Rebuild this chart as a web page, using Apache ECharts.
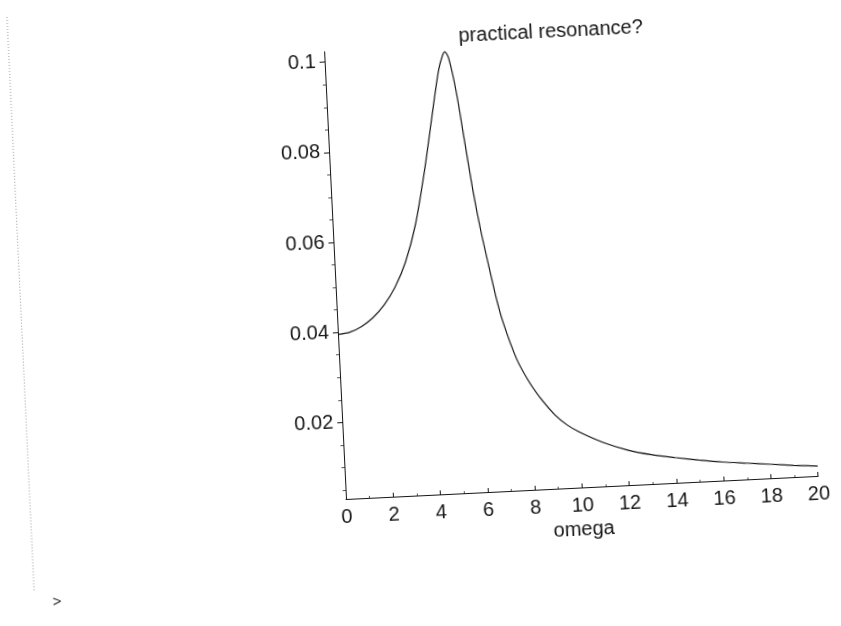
<!DOCTYPE html>
<html><head><meta charset="utf-8">
<script src="https://cdn.jsdelivr.net/npm/echarts@6/dist/echarts.min.js"></script>
<style>
html,body{margin:0;padding:0;background:#fff;overflow:hidden;width:841px;height:626px}
#c{position:absolute;left:0;top:0;width:841px;height:626px;transform-origin:346px 499px;transform:rotate(-2.8deg)}
</style></head><body><div id="c"></div>
<script>
// data
const omega = [0, 0.5, 1, 1.5, 2, 2.5, 3, 3.5, 4, 4.5, 4.8, 5, 5.1, 5.25, 5.5, 5.75, 6, 6.25, 6.5, 6.75, 7, 7.5, 8, 8.5, 9, 9.5, 10, 11, 12, 13, 14, 15, 16, 17, 18, 19, 20];
const amplitude = [0.0395, 0.0399, 0.0410, 0.0428, 0.0455, 0.0493, 0.0548, 0.0630, 0.0750, 0.0890, 0.0970, 0.1003, 0.1010, 0.0995, 0.0920, 0.0810, 0.0700, 0.0610, 0.0535, 0.0463, 0.0405, 0.0322, 0.0268, 0.0227, 0.0194, 0.0170, 0.0153, 0.0127, 0.0108, 0.0095, 0.0086, 0.0078, 0.0071, 0.0066, 0.0061, 0.0056, 0.0052];
const xTicks = [0, 2, 4, 6, 8, 10, 12, 14, 16, 18, 20];
const yTicks = [0.02, 0.04, 0.06, 0.08, 0.1];
const yMinorTicks = [0.005, 0.01, 0.015, 0.025, 0.03, 0.035, 0.045, 0.05, 0.055, 0.065, 0.07, 0.075, 0.085, 0.09, 0.095];
const titleText = 'practical resonance?';
const xName = 'omega';
const promptText = '>';

const FONT = "'Liberation Sans', Arial, Helvetica, sans-serif";
const INK = '#161616';
const chart = echarts.init(document.getElementById('c'), null, {renderer: 'canvas'});
chart.setOption({
  animation: false,
  backgroundColor: '#fff',
  title: {
    text: titleText, left: 476, top: 27,
    textStyle: {fontFamily: FONT, fontSize: 20, fontWeight: 'normal', color: INK}
  },
  grid: {left: 346, right: 22.3, top: 51.3, bottom: 127},
  xAxis: {
    type: 'value', min: xTicks[0], max: xTicks[xTicks.length - 1], interval: 2,
    axisLine: {show: true, lineStyle: {color: INK, width: 1}},
    axisTick: {show: true, inside: true, length: 4, lineStyle: {color: INK}},
    minorTick: {show: true, splitNumber: 2, length: 2, lineStyle: {color: '#555'}},
    splitLine: {show: false},
    axisLabel: {fontFamily: FONT, fontSize: 20, color: INK, margin: 8},
    name: xName, nameLocation: 'middle', nameGap: 32,
    nameTextStyle: {fontFamily: FONT, fontSize: 20, color: INK}
  },
  yAxis: [{
    type: 'value', min: 0.003, max: 0.1023,
    axisLine: {show: true, lineStyle: {color: INK, width: 1}},
    axisTick: {show: true, length: 5, customValues: yTicks, lineStyle: {color: INK}},
    splitLine: {show: false},
    axisLabel: {customValues: yTicks, fontFamily: FONT, fontSize: 20, color: INK, margin: 9,
      formatter: v => String(v)}
  }, {
    type: 'value', min: 0.003, max: 0.1023, position: 'left',
    axisLine: {show: false},
    axisTick: {show: true, length: 3, customValues: yMinorTicks, lineStyle: {color: '#555'}},
    axisLabel: {show: false},
    splitLine: {show: false}
  }],
  series: [{
    type: 'line', yAxisIndex: 0,
    data: omega.map((w, i) => [w, amplitude[i]]),
    showSymbol: false, smooth: 0.25,
    lineStyle: {color: INK, width: 1.2}
  }],
  graphic: [
    {type: 'line', shape: {x1: 31, y1: -5, x2: 30, y2: 577},
     style: {stroke: '#9a9a9a', lineWidth: 1, lineDash: [1, 2]}},
    {type: 'text', left: 48, top: 580,
     style: {text: promptText, fontFamily: FONT, fontSize: 15, fill: '#222'}}
  ]
});
</script></body></html>
